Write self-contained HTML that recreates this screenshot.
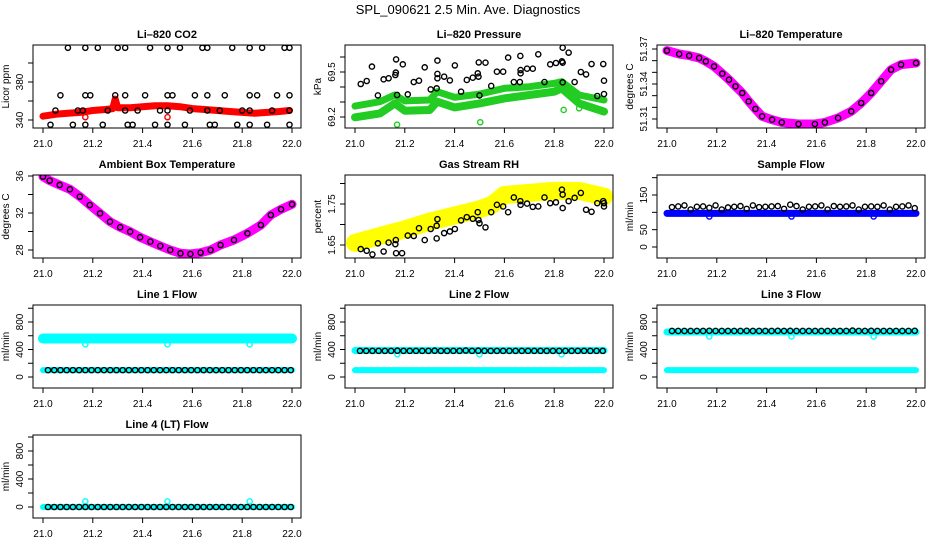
<!DOCTYPE html>
<html><head><meta charset="utf-8"><style>
html,body{margin:0;padding:0;background:#fff;}
svg{display:block;font-family:"Liberation Sans",sans-serif;}
</style></head><body>
<svg id="c" width="936" height="540" viewBox="0 0 936 540" xmlns="http://www.w3.org/2000/svg">
<text x="468" y="14" text-anchor="middle" font-size="13">SPL_090621  2.5 Min. Ave. Diagnostics</text>
</svg>
<script>
// ---------- data ----------
const xTicks = [21.0, 21.2, 21.4, 21.6, 21.8, 22.0];
const xTickLabels = ["21.0","21.2","21.4","21.6","21.8","22.0"];
const T40 = [21.02,21.045,21.07,21.095,21.12,21.145,21.17,21.195,21.22,21.245,21.27,21.295,21.32,21.345,21.37,21.395,21.42,21.445,21.47,21.495,21.52,21.545,21.57,21.595,21.62,21.645,21.67,21.695,21.72,21.745,21.77,21.795,21.82,21.845,21.87,21.895,21.92,21.945,21.97,21.995];

// CO2
const co2RedX = [21.0,21.05,21.1,21.15,21.2,21.25,21.28,21.29,21.3,21.35,21.4,21.45,21.5,21.55,21.6,21.65,21.7,21.75,21.8,21.85,21.9,21.95,21.99];
const co2RedY = [344,346,347,348,350,351,352,362,353,353,354,355,355,354,352,351,350,349,348,347,348,349,350];
const co2RedOutX = [21.17,21.5];
const co2RedOutY = [343,343];
const co2BlkX = [21.10,21.17,21.22,21.30,21.33,21.43,21.50,21.55,21.64,21.66,21.76,21.83,21.88,21.97,21.99,
 21.07,21.17,21.19,21.29,21.33,21.41,21.50,21.52,21.61,21.66,21.73,21.83,21.86,21.94,21.99,
 21.05,21.14,21.16,21.26,21.33,21.38,21.47,21.50,21.59,21.66,21.71,21.80,21.83,21.92,21.99,
 21.03,21.12,21.17,21.24,21.34,21.36,21.45,21.50,21.57,21.67,21.69,21.78,21.83,21.90,21.99];
const co2BlkY = [416,416,416,416,416,416,416,416,416,416,416,416,416,416,416,
 366,366,366,366,366,366,366,366,366,366,366,366,366,366,366,
 350,350,350,350,350,350,350,350,350,350,350,350,350,350,350,
 335,335,335,335,335,335,335,335,335,335,335,335,335,335,335];

// Pressure
const presBandX = [21.0,21.1,21.16,21.2,21.3,21.33,21.4,21.5,21.6,21.7,21.8,21.83,21.9,22.0];
const presUpper = [69.273,69.302,69.347,69.307,69.313,69.369,69.331,69.353,69.391,69.402,69.424,69.436,69.347,69.313];
const presLower = [69.198,69.224,69.291,69.242,69.247,69.302,69.264,69.291,69.324,69.347,69.369,69.391,69.291,69.236];
const presBlkX = [21.023,21.047,21.068,21.092,21.115,21.135,21.162,21.164,21.165,21.169,21.192,21.212,21.236,21.257,21.280,21.304,21.328,21.331,21.331,21.331,21.358,21.381,21.401,21.426,21.449,21.473,21.493,21.496,21.497,21.5,21.524,21.547,21.570,21.595,21.615,21.638,21.664,21.665,21.665,21.662,21.691,21.714,21.736,21.761,21.784,21.807,21.831,21.834,21.834,21.834,21.858,21.882,21.907,21.928,21.95,21.973,21.997,22.0,22.0];
const presBlkY = [69.42,69.44,69.536,69.344,69.451,69.458,69.48,69.496,69.584,69.347,69.551,69.351,69.433,69.442,69.531,69.384,69.391,69.576,69.487,69.458,69.469,69.444,69.544,69.369,69.447,69.462,69.491,69.469,69.564,69.344,69.562,69.407,69.502,69.502,69.596,69.433,69.607,69.491,69.513,69.433,69.522,69.522,69.618,69.433,69.551,69.56,69.571,69.562,69.662,69.431,69.629,69.433,69.5,69.484,69.553,69.34,69.553,69.353,69.442];
const presGrnOutX = [21.169,21.503,21.838,21.9];
const presGrnOutY = [69.149,69.165,69.247,69.258];

// Li-820 temperature
const ltX = [21.0,21.049,21.089,21.129,21.156,21.189,21.222,21.249,21.275,21.302,21.328,21.355,21.382,21.422,21.461,21.528,21.594,21.634,21.687,21.74,21.78,21.82,21.86,21.9,21.94,22.0];
const ltY = [51.3686,51.3657,51.3643,51.3623,51.3594,51.3551,51.3489,51.3437,51.3380,51.3323,51.3251,51.3186,51.3123,51.3094,51.3071,51.3057,51.3057,51.3071,51.3109,51.3166,51.3237,51.3323,51.3423,51.3523,51.3566,51.3580];

// Ambient box temperature
const abX = [21.0,21.027,21.067,21.108,21.148,21.188,21.229,21.269,21.31,21.35,21.39,21.431,21.471,21.511,21.552,21.592,21.633,21.673,21.713,21.767,21.821,21.875,21.915,21.956,22.0];
const abY = [35.93,35.50,35.03,34.56,33.77,32.86,31.96,31.06,30.45,29.98,29.37,28.90,28.43,28.0,27.64,27.57,27.71,28.0,28.54,29.08,29.80,30.70,31.78,32.40,32.94];

// Gas stream RH
const rhBandX = [21.0,21.1,21.2,21.3,21.4,21.5,21.55,21.6,21.7,21.8,21.9,22.0];
const rhBandY = [1.655,1.672,1.688,1.707,1.722,1.737,1.748,1.772,1.777,1.782,1.782,1.768];
const rhBlkX = [21.023,21.047,21.07,21.092,21.115,21.135,21.162,21.164,21.165,21.189,21.212,21.236,21.257,21.28,21.304,21.328,21.328,21.331,21.358,21.381,21.401,21.426,21.449,21.473,21.493,21.496,21.5,21.524,21.547,21.57,21.595,21.615,21.638,21.664,21.665,21.691,21.714,21.736,21.761,21.784,21.807,21.831,21.834,21.834,21.858,21.882,21.907,21.928,21.95,21.973,21.997,22.0,22.0];
const rhBlkY = [1.640,1.636,1.627,1.654,1.634,1.656,1.652,1.662,1.630,1.630,1.673,1.672,1.691,1.662,1.689,1.666,1.697,1.713,1.679,1.683,1.689,1.710,1.718,1.714,1.730,1.711,1.703,1.693,1.730,1.748,1.744,1.730,1.766,1.757,1.748,1.751,1.743,1.744,1.766,1.752,1.754,1.785,1.773,1.740,1.757,1.765,1.777,1.736,1.731,1.752,1.757,1.744,1.752];

// Sample flow
const sfBandX = [21.0,22.0];
const sfBandY = [97,97];
const sfBlkY = [115,117,120,108,116,117,113,120,108,114,116,118,110,120,115,116,117,118,110,122,118,108,116,117,120,108,118,116,117,120,108,116,117,116,120,108,116,117,120,112];
const sfBlueOutX = [21.17,21.5,21.83];
const sfBlueOutY = [88,88,88];

// Line flows
const flowBandX = [21.0,22.0];
const l1Cyan = [560,560];
const l1CyanLow = [100,100];
const l1Blk = [100,100,100,100,100,100,100,100,100,100,100,100,100,100,100,100,100,100,100,100,100,100,100,100,100,100,100,100,100,100,100,100,100,100,100,100,100,100,100,100];
const l2CyanHigh = [385,385];
const l2CyanLow = [100,100];
const l2Blk = [380,380,380,380,380,380,382,380,380,380,380,380,382,380,380,380,380,385,380,382,380,380,380,380,380,380,380,380,380,380,380,380,380,380,380,380,380,380,380,380];
const l3CyanHigh = [655,655];
const l3CyanLow = [100,100];
const l3Blk = [670,670,670,670,670,670,672,670,670,670,670,670,672,670,670,670,670,672,670,672,670,670,670,670,670,670,670,670,670,675,670,670,672,670,670,670,670,670,670,672];
const l4Cyan = [0,0];
const l4Blk = [0,0,0,0,0,0,0,0,0,0,0,0,0,0,0,0,0,0,0,0,0,0,0,0,0,0,0,0,0,0,0,0,0,0,0,0,0,0,0,0];
const dipX = [21.17,21.5,21.83];
const l1Dip = [475,475,475];
const l2Dip = [330,330,330];
const l3Dip = [590,590,590];
const l4Dip = [80,80,80];

// ---------- drawing ----------
const svg = document.getElementById('c');
const NS = 'http://www.w3.org/2000/svg';
function mk(tag, attrs, parent){
  const e = document.createElementNS(NS, tag);
  for (const k in attrs) e.setAttribute(k, attrs[k]);
  (parent||svg).appendChild(e);
  return e;
}
function panel(name, title, ytitle, left, top, v0, p0, v1, p1, yTicks, yLabels){
  const g = mk('g', {});
  
  
  const W = 268, H = 83;
  const sx = x => left + 10 + (x - 21) * 249;
  const sy = v => p0 + (v - v0) * (p1 - p0) / (v1 - v0);
  const t = mk('text', {x: left + W/2, y: top - 7, 'text-anchor':'middle', 'font-size':'11', 'font-weight':'bold'}, g);
  t.textContent = title;
  
  
  const xa = mk('g', {}, g);
  
  
  xTicks.forEach((v, i) => {
    const x = sx(v);
    mk('line', {x1:x, x2:x, y1:top+H, y2:top+H+5, stroke:'#000'}, xa);
    const tl = mk('text', {x:x, y:top+H+19, 'text-anchor':'middle', 'font-size':'10'}, xa);
    tl.textContent = xTickLabels[i];
  });
  const ya = mk('g', {}, g);
  
  
  yTicks.forEach((v, i) => {
    const y = sy(v);
    mk('line', {x1:left-5, x2:left, y1:y, y2:y, stroke:'#000'}, ya);
    if (yLabels[i] !== '') {
      const tl = mk('text', {x:left-10, y:y, 'text-anchor':'middle', 'font-size':'10', transform:`rotate(-90 ${left-10} ${y})`}, ya);
      tl.textContent = yLabels[i];
    }
  });
  const yt = mk('text', {x:left-24, y:top+H/2, 'text-anchor':'middle', 'font-size':'10', transform:`rotate(-90 ${left-24} ${top+H/2})`}, g);
  yt.textContent = ytitle;
  
  
  const clipId = 'cl-' + name;
  const cp = mk('clipPath', {id: clipId}, g);
  mk('rect', {x:left, y:top, width:W, height:H}, cp);
  const plot = mk('g', {'clip-path': `url(#${clipId})`}, g);
  
  
  const box = mk('rect', {x:left, y:top, width:W, height:H, fill:'none', stroke:'#000'}, g);
  
  
  return {sx, sy, plot};
}
function band(P, xs, ys, color, w, nm){
  const pts = xs.map((x,i) => P.sx(x).toFixed(1) + ',' + P.sy(ys[i]).toFixed(1)).join(' ');
  const e = mk('polyline', {points:pts, fill:'none', stroke:color, 'stroke-width':w, 'stroke-linejoin':'round', 'stroke-linecap':'round'}, P.plot);
  
  
}
function pts(P, xs, ys, color, nm, r, sw){
  xs.forEach((x, i) => {
    const e = mk('circle', {cx:P.sx(x), cy:P.sy(ys[i]), r:r||2.6, fill:'none', stroke:color, 'stroke-width':sw||1.4}, P.plot);
    
    
  });
}

// Panel 1: CO2
let P = panel('co2-panel', 'Li\u2013820 CO2', 'Licor ppm', 33, 45, 340, 120, 380, 82, [340,360,380,400], ['340','','380','']);
band(P, co2RedX, co2RedY, '#ff0000', 7, 'co2-series');
pts(P, co2RedOutX, co2RedOutY, '#ff0000', 'co2-outlier');
pts(P, co2BlkX, co2BlkY, '#000', 'co2-point');

// Panel 2: Pressure
P = panel('pressure-panel', 'Li\u2013820 Pressure', 'kPa', 345, 45, 69.5, 72, 69.2, 117, [69.2,69.3,69.4,69.5,69.6], ['69.2','','','69.5','']);
band(P, presBandX, presUpper, '#22cc22', 7, 'pressure-upper-band');
band(P, presBandX, presLower, '#22cc22', 8, 'pressure-lower-band');
pts(P, presGrnOutX, presGrnOutY, '#22cc22', 'pressure-outlier');
pts(P, presBlkX, presBlkY, '#000', 'pressure-point');

// Panel 3: Li-820 temperature
P = panel('licor-temp-panel', 'Li\u2013820 Temperature', 'degrees C', 657, 45, 51.37, 49, 51.31, 119, [51.31,51.32,51.33,51.34,51.35,51.36,51.37], ['51.31','','','51.34','','','51.37']);
band(P, ltX, ltY, '#ff00ff', 9, 'licor-temp-series');
pts(P, ltX, ltY, '#000', 'licor-temp-point');

// Panel 4: Ambient
P = panel('ambient-temp-panel', 'Ambient Box Temperature', 'degrees C', 33, 175, 36, 176, 28, 250, [28,30,32,34,36], ['28','','32','','36']);
band(P, abX, abY, '#ff00ff', 9, 'ambient-temp-series');
pts(P, abX, abY, '#000', 'ambient-temp-point');

// Panel 5: RH
P = panel('rh-panel', 'Gas Stream RH', 'percent', 345, 175, 1.65, 245, 1.75, 204, [1.65,1.70,1.75,1.80], ['1.65','','1.75','']);
band(P, rhBandX, rhBandY, '#ffff00', 18, 'rh-series');
pts(P, rhBlkX, rhBlkY, '#000', 'rh-point');

// Panel 6: Sample flow
P = panel('sample-flow-panel', 'Sample Flow', 'ml/min', 657, 175, 0, 247, 150, 195, [0,50,100,150,200], ['0','50','','150','']);
band(P, sfBandX, sfBandY, '#0000ff', 7, 'sample-flow-series');
pts(P, sfBlueOutX, sfBlueOutY, '#0000ff', 'sample-flow-outlier');
pts(P, T40, sfBlkY, '#000', 'sample-flow-point');

const flowTicks = [0,200,400,600,800,1000];
const flowLabels = ['0','','400','','800',''];
// Line 1
P = panel('line1-flow-panel', 'Line 1 Flow', 'ml/min', 33, 305, 0, 377, 800, 322, flowTicks, flowLabels);
band(P, flowBandX, l1Cyan, '#00ffff', 10, 'line1-cyan-high');
band(P, flowBandX, l1CyanLow, '#00ffff', 6, 'line1-cyan-low');
pts(P, dipX, l1Dip, '#00ffff', 'line1-dip');
pts(P, T40, l1Blk, '#000', 'line1-point');
// Line 2
P = panel('line2-flow-panel', 'Line 2 Flow', 'ml/min', 345, 305, 0, 377, 800, 322, flowTicks, flowLabels);
band(P, flowBandX, l2CyanHigh, '#00ffff', 7, 'line2-cyan-high');
band(P, flowBandX, l2CyanLow, '#00ffff', 6, 'line2-cyan-low');
pts(P, dipX, l2Dip, '#00ffff', 'line2-dip');
pts(P, T40, l2Blk, '#000', 'line2-point');
// Line 3
P = panel('line3-flow-panel', 'Line 3 Flow', 'ml/min', 657, 305, 0, 377, 800, 322, flowTicks, flowLabels);
band(P, flowBandX, l3CyanHigh, '#00ffff', 7, 'line3-cyan-high');
band(P, flowBandX, l3CyanLow, '#00ffff', 6, 'line3-cyan-low');
pts(P, dipX, l3Dip, '#00ffff', 'line3-dip');
pts(P, T40, l3Blk, '#000', 'line3-point');
// Line 4
P = panel('line4-flow-panel', 'Line 4 (LT) Flow', 'ml/min', 33, 435, 0, 507, 800, 451, flowTicks, flowLabels);
band(P, flowBandX, l4Cyan, '#00ffff', 6, 'line4-cyan');
pts(P, dipX, l4Dip, '#00ffff', 'line4-dip');
pts(P, T40, l4Blk, '#000', 'line4-point');
</script>
</body></html>
